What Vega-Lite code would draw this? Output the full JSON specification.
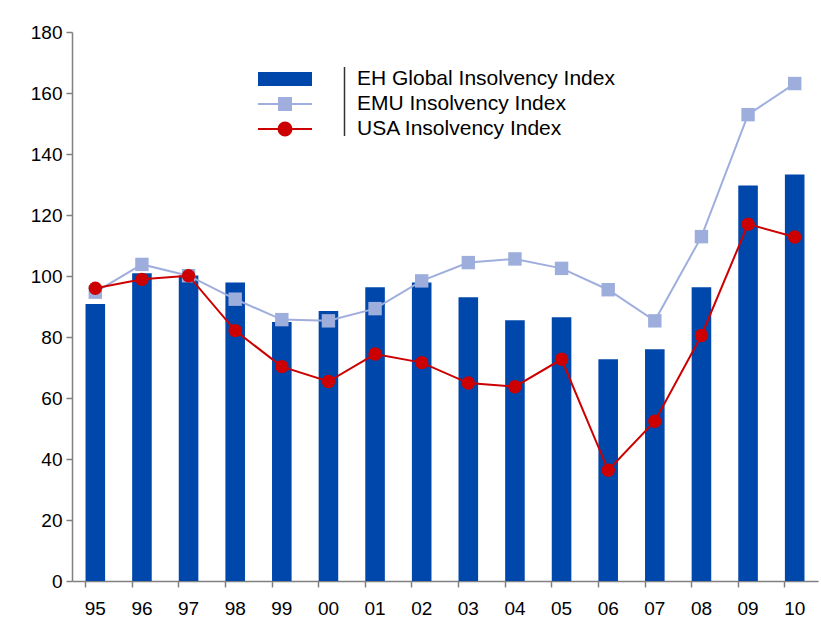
{
  "$schema": "https://vega.github.io/schema/vega-lite/v6.json",
  "autosize": {"type": "none"},
  "padding": {"left": 72, "top": 32, "right": 3, "bottom": 41},
  "width": 746,
  "height": 549,
  "background": "white",
  "config": {
    "view": {"stroke": null},
    "font": "Liberation Sans",
    "axis": {
      "domainColor": "#808080",
      "tickColor": "#808080",
      "domainWidth": 1.5,
      "tickWidth": 1.5,
      "labelFont": "Liberation Sans",
      "labelFontSize": 19,
      "labelColor": "#000000",
      "grid": false,
      "title": null
    },
    "legend": {
      "labelFont": "Liberation Sans",
      "labelFontSize": 21,
      "labelColor": "#000000",
      "labelLimit": 500
    }
  },
  "datasets": {
    "main": [
      {"year": "95", "eh": 90.8, "emu": 94.7, "usa": 96.0},
      {"year": "96", "eh": 100.9, "emu": 103.8, "usa": 98.9},
      {"year": "97", "eh": 100.2, "emu": 100.1, "usa": 100.1},
      {"year": "98", "eh": 97.9, "emu": 92.4, "usa": 82.1},
      {"year": "99", "eh": 84.9, "emu": 85.7, "usa": 70.3},
      {"year": "00", "eh": 88.5, "emu": 85.3, "usa": 65.4},
      {"year": "01", "eh": 96.3, "emu": 89.3, "usa": 74.4},
      {"year": "02", "eh": 97.9, "emu": 98.4, "usa": 71.6},
      {"year": "03", "eh": 93.0, "emu": 104.4, "usa": 64.9},
      {"year": "04", "eh": 85.5, "emu": 105.6, "usa": 63.7},
      {"year": "05", "eh": 86.5, "emu": 102.5, "usa": 72.7},
      {"year": "06", "eh": 72.7, "emu": 95.5, "usa": 36.3},
      {"year": "07", "eh": 76.0, "emu": 85.3, "usa": 52.4},
      {"year": "08", "eh": 96.3, "emu": 112.9, "usa": 80.5},
      {"year": "09", "eh": 129.7, "emu": 152.9, "usa": 117.0},
      {"year": "10", "eh": 133.3, "emu": 163.1, "usa": 112.8}
    ],
    "legend": [
      {"series": "EH Global Insolvency Index", "code": "a"},
      {"series": "EMU Insolvency Index", "code": "a"},
      {"series": "USA Insolvency Index", "code": "a"}
    ]
  },
  "data": {"name": "main"},
  "encoding": {
    "x": {
      "field": "year",
      "type": "nominal",
      "sort": null,
      "scale": {"paddingInner": 0.58, "paddingOuter": 0.29},
      "axis": {"bandPosition": 0, "labelAngle": 0, "tickSize": 6, "labelPadding": 12}
    }
  },
  "layer": [
    {
      "mark": {"type": "bar", "color": "#0047AB"},
      "encoding": {
        "y": {
          "field": "eh",
          "type": "quantitative",
          "scale": {"domain": [0, 180], "nice": false},
          "axis": {"values": [0, 20, 40, 60, 80, 100, 120, 140, 160, 180], "tickSize": 6, "labelPadding": 4}
        }
      }
    },
    {
      "mark": {"type": "line", "color": "#9FAEDD", "strokeWidth": 2},
      "encoding": {"y": {"field": "emu", "type": "quantitative"}}
    },
    {
      "mark": {"type": "point", "shape": "square", "filled": true, "opacity": 1, "color": "#9DAEDD", "size": 180},
      "encoding": {"y": {"field": "emu", "type": "quantitative"}}
    },
    {
      "mark": {"type": "line", "color": "#CC0000", "strokeWidth": 2},
      "encoding": {"y": {"field": "usa", "type": "quantitative"}}
    },
    {
      "mark": {"type": "point", "shape": "circle", "filled": true, "opacity": 1, "color": "#CC0000", "size": 180},
      "encoding": {"y": {"field": "usa", "type": "quantitative"}}
    },
    {
      "data": {"name": "legend"},
      "mark": {"type": "point", "filled": true, "opacity": 0},
      "encoding": {
        "x": {"value": 0},
        "y": {"value": 0},
        "stroke": {
          "field": "code",
          "type": "nominal",
          "scale": {"domain": ["a"], "range": ["#333333"]},
          "legend": {
            "orient": "none",
            "legendX": 237,
            "legendY": 34,
            "title": null,
            "symbolType": "M0,-1V1",
            "symbolSize": 4761,
            "symbolStrokeWidth": 1.5,
            "labelExpr": "''",
            "rowPadding": 0,
            "encode": {
              "symbols": {
                "update": {
                  "opacity": {"value": 1},
                  "fill": {"value": "transparent"},
                  "stroke": {"value": "#333333"},
                  "strokeWidth": {"value": 1.5}
                }
              }
            }
          }
        },
        "color": {
          "field": "series",
          "type": "nominal",
          "scale": {
            "domain": ["EH Global Insolvency Index", "EMU Insolvency Index", "USA Insolvency Index"],
            "range": ["#0047AB", "#9FAEDD", "#CC0000"]
          },
          "legend": {
            "orient": "none",
            "legendX": 202,
            "legendY": 36,
            "title": null,
            "symbolSize": 400,
            "symbolStrokeWidth": 2,
            "labelOffset": 61,
            "rowPadding": 4,
            "symbolOpacity": 1,
            "encode": {
              "symbols": {
                "update": {
                  "stroke": {"scale": "color", "field": "value"},
                  "strokeWidth": {"value": 2},
                  "opacity": {"value": 1}
                }
              }
            }
          }
        },
        "shape": {
          "field": "series",
          "type": "nominal",
          "scale": {
            "domain": ["EH Global Insolvency Index", "EMU Insolvency Index", "USA Insolvency Index"],
            "range": [
              "M-2.6,-0.6H2.6V0.6H-2.6Z",
              "M-2.7,0H2.7M-0.6,-0.6H0.6V0.6H-0.6Z",
              "M-2.7,0H2.7M0.65,0A0.65,0.65 0 1 1 -0.65,0A0.65,0.65 0 1 1 0.65,0Z"
            ]
          }
        }
      }
    }
  ]
}
